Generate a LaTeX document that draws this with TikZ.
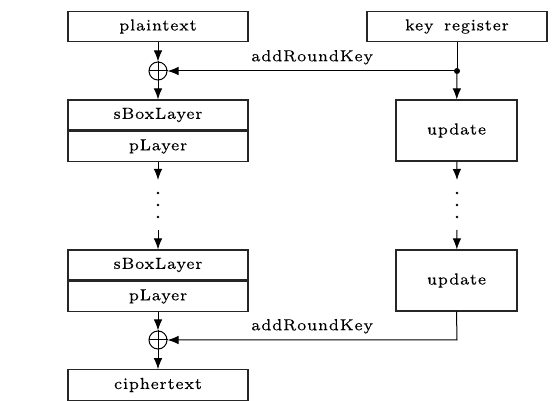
\documentclass[tikz,border=0pt]{standalone}
\usepackage{fontspec}
\newfontfamily\lbl{lmroman7-regular.otf}[LetterSpace=5, WordSpace=1.5, FakeBold=0.15]
\usetikzlibrary{arrows.meta}
\tikzset{
  txt/.style={font=\lbl\fontsize{16}{18}\selectfont},
  blk/.style={txt, draw=black!85, line width=1.1pt, minimum width=180pt, minimum height=30.5pt, inner sep=0pt},
  half/.style={blk, minimum height=30pt},
  upd/.style={txt, draw=black!85, line width=1.1pt, minimum width=121pt, minimum height=61pt, inner sep=0pt},
  xorc/.style={draw, circle, line width=1pt, minimum size=18pt, inner sep=0pt},
  conn/.style={line width=1pt, -{Latex[length=11pt,width=8.5pt]}},
  plain/.style={line width=1pt},
  lab/.style={txt, inner sep=0pt},
  vdot/.style={circle, fill, inner sep=0pt, minimum size=2.8pt}
}
\begin{document}
\begin{tikzpicture}[x=1pt,y=-1pt]
\useasboundingbox (0,0) rectangle (558,401);
% left column
\node[blk] (pt) at (158,26.5) {plaintext};
\node[xorc] (x1) at (158,71) {};
\draw[plain] (x1.north) -- (x1.south) (x1.west) -- (x1.east);
\node[half] (sb1) at (158,115) {sBoxLayer};
\node[half] (pl1) at (158,146.5) {pLayer};
\coordinate (la1) at (158,180);
\node[vdot] (ld1) at (158,193) {};
\node[vdot] (ld2) at (158,205) {};
\node[vdot] (ld3) at (158,217) {};
\coordinate (la2) at (158,230);
\node[half] (sb2) at (158,265) {sBoxLayer};
\node[half] (pl2) at (158,296.5) {pLayer};
\node[xorc] (x2) at (158,340) {};
\draw[plain] (x2.north) -- (x2.south) (x2.west) -- (x2.east);
\node[blk] (ct) at (158,385) {ciphertext};
% right column
\node[blk] (kr) at (457,26.5) {key register};
\node[vdot, minimum size=6pt] (j1) at (457,71) {};
\node[upd] (u1) at (456.5,130.5) {update};
\coordinate (ra1) at (457,180);
\node[vdot] (rd1) at (457,193) {};
\node[vdot] (rd2) at (457,205) {};
\node[vdot] (rd3) at (457,217) {};
\coordinate (ra2) at (457,230);
\node[upd] (u2) at (456.5,280.5) {update};
\coordinate (c2) at (457,340);
% connectors
\draw[conn] (pt) -- (x1);
\draw[conn] (x1) -- (sb1);
\draw[conn] (pl1) -- (la1);
\draw[conn] (la2) -- (sb2);
\draw[conn] (pl2) -- (x2);
\draw[conn] (x2) -- (ct);
\draw[plain] (kr) -- (j1);
\draw[conn] (j1) -- (u1);
\draw[conn] (j1.center) -- node[lab, above=6pt] {addRoundKey} (x1);
\draw[conn] (u1) -- (ra1);
\draw[conn] (ra2) -- (u2);
\draw[conn] (u2.south) -- (c2) -- node[lab, above=6pt] {addRoundKey} (x2);
\end{tikzpicture}
\end{document}
